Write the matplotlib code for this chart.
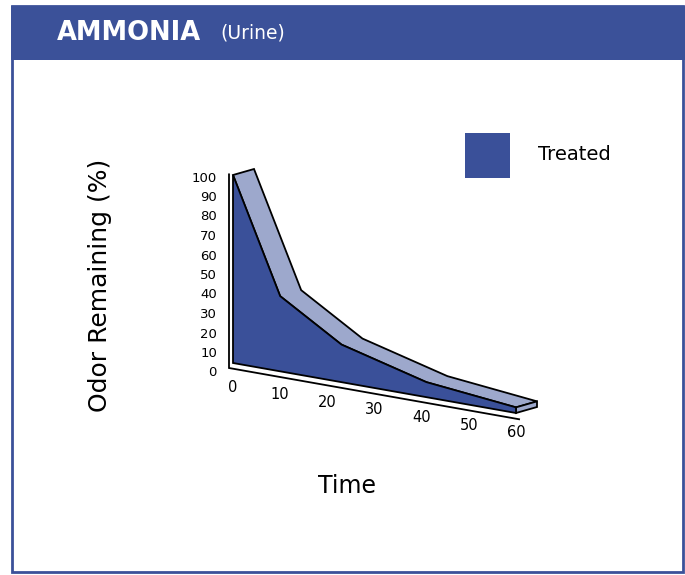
import numpy as np
import matplotlib.pyplot as plt
from matplotlib.patches import Polygon, Rectangle

# data
times = [0, 10, 23, 41, 60]
remaining = [100, 40, 20, 8, 3]
x_ticks = [0, 10, 20, 30, 40, 50, 60]
y_ticks = [0, 10, 20, 30, 40, 50, 60, 70, 80, 90, 100]
series_name = 'Treated'

DARK = '#3a5099'
LIGHT = '#9da8cc'
HEADER = '#3b5199'

# pseudo 3D projection (screen pixels)
X0, Y0 = 233, 363
SX = 283 / 60          # px per minute
SLOPE = 50 / 60        # baseline drop per minute
SV = 1.88              # px per percent
DEPTH = (21, -6)       # back face offset


def proj(t, v, d=0):
    x = X0 + t * SX + d * DEPTH[0]
    y = Y0 + t * SLOPE - v * SV + d * DEPTH[1]
    return x, y


fig = plt.figure(figsize=(6.85, 5.75), dpi=100)
ax = fig.add_axes([0, 0, 1, 1])
ax.set_xlim(0, 685)
ax.set_ylim(575, 0)
ax.axis('off')

# frame and header
ax.add_patch(Rectangle((12.5, 6), 670.5, 566, fill=False, ec=HEADER, lw=2))
ax.add_patch(Rectangle((11, 6), 674, 54, fc=HEADER, ec='none'))
ax.text(57, 33, 'AMMONIA', color='white', fontsize=18.5, fontweight='heavy',
        va='center', ha='left')
ax.text(220, 33, '(Urine)', color='white', fontsize=13.5, va='center', ha='left')

# axis lines
off = (-4, 5)
p_top = proj(0, 103)
p_org = proj(0, 0)
p_end = proj(61.5, 0)
ax.plot([p_top[0] + off[0], p_org[0] + off[0], p_end[0] + off[0]],
        [p_top[1] + off[1], p_org[1] + off[1], p_end[1] + off[1]],
        color='black', lw=1.3, solid_joinstyle='miter')

# top surface of the ribbon
front = [proj(t, v) for t, v in zip(times, remaining)]
back = [proj(t, v, 1) for t, v in zip(times, remaining)]
ax.add_patch(Polygon(front + back[::-1], closed=True, fc=LIGHT, ec='black',
                     lw=1.3, joinstyle='miter'))

# end cap
t_last, v_last = times[-1], remaining[-1]
cap = [proj(t_last, 0), proj(t_last, v_last), proj(t_last, v_last, 1), proj(t_last, 0, 1)]
ax.add_patch(Polygon(cap, closed=True, fc=LIGHT, ec='black', lw=1.3))

# front face
face = [proj(times[0], 0)] + front + [proj(times[-1], 0)]
ax.add_patch(Polygon(face, closed=True, fc=DARK, ec='black', lw=1.3,
                     joinstyle='miter'))

# y tick labels
for v in y_ticks:
    ax.text(217, 373 - v * 1.95, str(v), fontsize=9.5, ha='right', va='center')

# x tick labels
for t in x_ticks:
    x, y = proj(t, 0)
    ax.text(x, y + 24 - t * 0.07, str(t), fontsize=10.5, ha='center', va='center')

# axis titles
ax.text(100, 285, 'Odor Remaining (%)', fontsize=18, rotation=90,
        ha='center', va='center')
ax.text(347, 486, 'Time', fontsize=17, ha='center', va='center')

# legend
ax.add_patch(Rectangle((465, 133), 45, 45, fc=DARK, ec='none'))
ax.text(538, 155, series_name, fontsize=14, ha='left', va='center')

fig.savefig('out.png', dpi=100)
